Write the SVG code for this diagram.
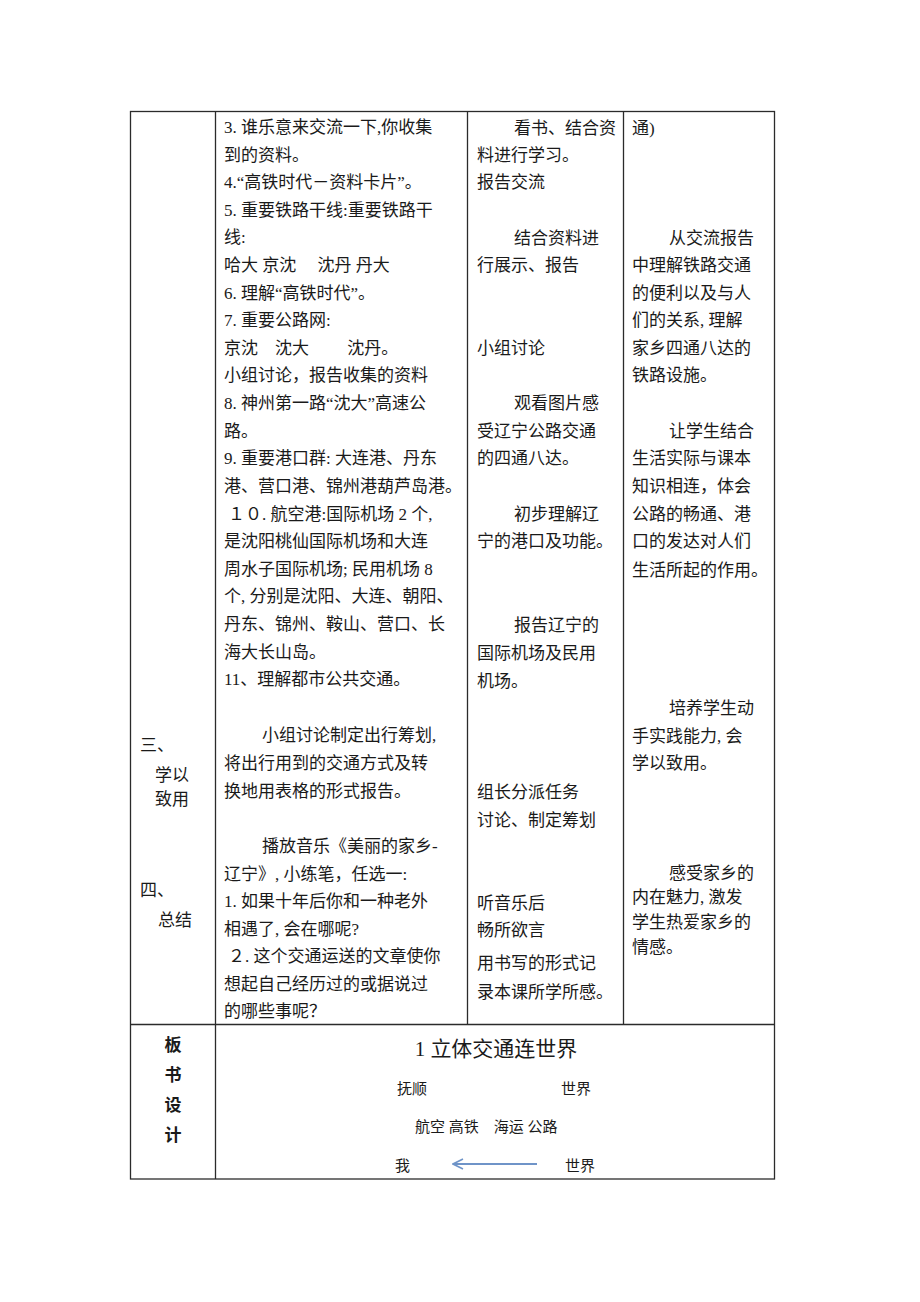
<svg xmlns="http://www.w3.org/2000/svg" width="920" height="1302" viewBox="0 0 920 1302">
<style>
  .grid { stroke: #2b2b2b; stroke-width: 1.3; fill: none; }
  text { font-family: "Liberation Serif", "Noto Sans CJK SC", serif; font-size: 17px; fill: #1a1a1a; }
  .hd { font-size: 17px; }
  .bd { font-size: 17px; font-weight: bold; }
  .sm { font-size: 15px; }
  .tt { font-size: 21px; }
</style>
<defs>
  <marker id="ah" markerWidth="12" markerHeight="12" refX="10" refY="6" orient="auto" markerUnits="userSpaceOnUse">
    <path d="M1,1 L11,6 L1,11" fill="none" stroke="#6f94c8" stroke-width="1.6"/>
  </marker>
</defs>
<rect width="920" height="1302" fill="#ffffff"/>
<g id="table">
  <rect class="grid" x="130.5" y="111.5" width="644" height="1067.5"/>
  <line class="grid" x1="215.5" y1="111.5" x2="215.5" y2="1179"/>
  <line class="grid" x1="467.5" y1="111.5" x2="467.5" y2="1024.5"/>
  <line class="grid" x1="623.5" y1="111.5" x2="623.5" y2="1024.5"/>
  <line class="grid" x1="130.5" y1="1024.5" x2="774.5" y2="1024.5"/>
</g>
<g id="col-stage" class="hd">
  <text x="140" y="751">三、</text>
  <text x="155" y="781">学以</text>
  <text x="155" y="805">致用</text>
  <text x="140" y="896">四、</text>
  <text x="158" y="926">总结</text>
</g>
<g id="col-content" xml:space="preserve">
  <text x="224" y="133">3. 谁乐意来交流一下,你收集</text>
  <text x="224" y="161">到的资料。</text>
  <text x="224" y="188">4.“高铁时代－资料卡片”。</text>
  <text x="224" y="216">5. 重要铁路干线:重要铁路干</text>
  <text x="224" y="243">线:</text>
  <text x="224" y="271">哈大 京沈　 沈丹 丹大</text>
  <text x="224" y="299">6. 理解“高铁时代”。</text>
  <text x="224" y="326">7. 重要公路网:</text>
  <text x="224" y="354">京沈　沈大　　 沈丹。</text>
  <text x="224" y="381">小组讨论，报告收集的资料</text>
  <text x="224" y="409">8. 神州第一路“沈大”高速公</text>
  <text x="224" y="437">路。</text>
  <text x="224" y="464">9. 重要港口群: 大连港、丹东</text>
  <text x="224" y="492">港、营口港、锦州港葫芦岛港。</text>
  <text x="228" y="520">１０. 航空港:国际机场 2 个,</text>
  <text x="224" y="547">是沈阳桃仙国际机场和大连</text>
  <text x="224" y="575">周水子国际机场; 民用机场 8</text>
  <text x="224" y="602">个, 分别是沈阳、大连、朝阳、</text>
  <text x="224" y="630">丹东、锦州、鞍山、营口、长</text>
  <text x="224" y="658">海大长山岛。</text>
  <text x="224" y="685">11、理解都市公共交通。</text>
  <text x="262" y="741">小组讨论制定出行筹划,</text>
  <text x="224" y="769">将出行用到的交通方式及转</text>
  <text x="224" y="797">换地用表格的形式报告。</text>
  <text x="262" y="852">播放音乐《美丽的家乡-</text>
  <text x="224" y="880">辽宁》, 小练笔，任选一:</text>
  <text x="224" y="907">1. 如果十年后你和一种老外</text>
  <text x="224" y="935">相遇了, 会在哪呢?</text>
  <text x="228" y="962">２. 这个交通运送的文章使你</text>
  <text x="224" y="990">想起自己经历过的或据说过</text>
  <text x="224" y="1017">的哪些事呢？</text>
</g>
<g id="col-student">
  <text x="514" y="134">看书、结合资</text>
  <text x="477" y="161">料进行学习。</text>
  <text x="477" y="188">报告交流</text>
  <text x="514" y="244">结合资料进</text>
  <text x="477" y="271">行展示、报告</text>
  <text x="477" y="354">小组讨论</text>
  <text x="514" y="409">观看图片感</text>
  <text x="477" y="437">受辽宁公路交通</text>
  <text x="477" y="464">的四通八达。</text>
  <text x="514" y="520">初步理解辽</text>
  <text x="477" y="547">宁的港口及功能。</text>
  <text x="514" y="631">报告辽宁的</text>
  <text x="477" y="659">国际机场及民用</text>
  <text x="477" y="687">机场。</text>
  <text x="477" y="798">组长分派任务</text>
  <text x="477" y="826">讨论、制定筹划</text>
  <text x="477" y="909">听音乐后</text>
  <text x="477" y="936">畅所欲言</text>
  <text x="477" y="969">用书写的形式记</text>
  <text x="477" y="998">录本课所学所感。</text>
</g>
<g id="col-intent">
  <text x="632" y="134">通)</text>
  <text x="669" y="244">从交流报告</text>
  <text x="632" y="271">中理解铁路交通</text>
  <text x="632" y="299">的便利以及与人</text>
  <text x="632" y="326">们的关系, 理解</text>
  <text x="632" y="354">家乡四通八达的</text>
  <text x="632" y="381">铁路设施。</text>
  <text x="669" y="437">让学生结合</text>
  <text x="632" y="464">生活实际与课本</text>
  <text x="632" y="492">知识相连，体会</text>
  <text x="632" y="520">公路的畅通、港</text>
  <text x="632" y="547">口的发达对人们</text>
  <text x="632" y="576">生活所起的作用。</text>
  <text x="669" y="714">培养学生动</text>
  <text x="632" y="742">手实践能力, 会</text>
  <text x="632" y="769">学以致用。</text>
  <text x="669" y="879">感受家乡的</text>
  <text x="632" y="903">内在魅力, 激发</text>
  <text x="632" y="928">学生热爱家乡的</text>
  <text x="632" y="953">情感。</text>
</g>
<g id="board-label" class="bd">
  <text x="173" y="1051" text-anchor="middle">板</text>
  <text x="173" y="1081" text-anchor="middle">书</text>
  <text x="173" y="1111" text-anchor="middle">设</text>
  <text x="173" y="1141" text-anchor="middle">计</text>
</g>
<g id="board-content" xml:space="preserve">
  <text class="tt" x="496" y="1056" text-anchor="middle">1 立体交通连世界</text>
  <text class="sm" x="397" y="1094">抚顺</text>
  <text class="sm" x="561" y="1094">世界</text>
  <text class="sm" x="415" y="1132">航空 高铁　海运 公路</text>
  <text class="sm" x="395" y="1171">我</text>
  <text class="sm" x="565" y="1171">世界</text>
</g>
<g id="connectors">
  <line x1="537" y1="1164" x2="454" y2="1164" stroke="#6f94c8" stroke-width="1.8" marker-end="url(#ah)"/>
</g>
</svg>
